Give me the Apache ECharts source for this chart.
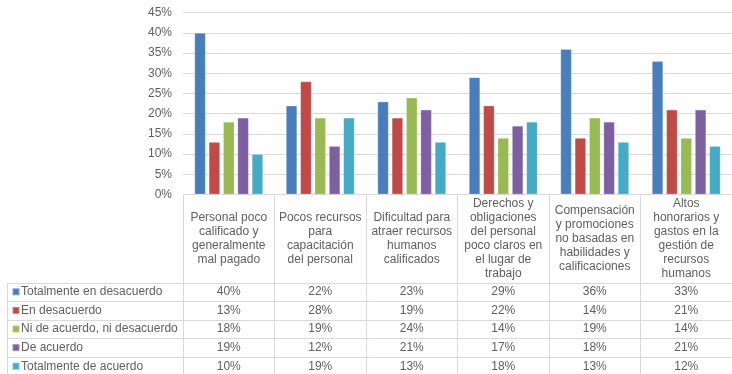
<!DOCTYPE html>
<html>
<head>
<meta charset="utf-8">
<script src="https://cdn.jsdelivr.net/npm/echarts@6/dist/echarts.min.js"></script>
<style>
  html, body { margin: 0; padding: 0; background: #ffffff; }
  #chart { width: 732px; height: 374px; }
</style>
</head>
<body>
<div id="chart"></div>
<script>
// Categories (with the line breaks used in the table header cells)
const categories = [
  'Personal poco\ncalificado y\ngeneralmente\nmal pagado',
  'Pocos recursos\npara\ncapacitación\ndel personal',
  'Dificultad para\natraer recursos\nhumanos\ncalificados',
  'Derechos y\nobligaciones\ndel personal\npoco claros en\nel lugar de\ntrabajo',
  'Compensación\ny promociones\nno basadas en\nhabilidades y\ncalificaciones',
  'Altos\nhonorarios y\ngastos en la\ngestión de\nrecursos\nhumanos'
];

// Series names and values (%)
const seriesNames = [
  'Totalmente en desacuerdo',
  'En desacuerdo',
  'Ni de acuerdo, ni desacuerdo',
  'De acuerdo',
  'Totalmente de acuerdo'
];
const totalDesacuerdo = [40, 22, 23, 29, 36, 33];
const enDesacuerdo    = [13, 28, 19, 22, 14, 21];
const niNi            = [18, 19, 24, 14, 19, 14];
const deAcuerdo       = [19, 12, 21, 17, 18, 21];
const totalAcuerdo    = [10, 19, 13, 18, 13, 12];
const seriesValues = [totalDesacuerdo, enDesacuerdo, niNi, deAcuerdo, totalAcuerdo];

// Value axis ticks
const yMin = 0, yMax = 45, yStep = 5;

const colors = ['#4a7ebb', '#be4b48', '#98b954', '#7d60a0', '#46aac5'];
const textColor = '#606060';
const borderColor = '#d9d9d9';
const font = 'Liberation Sans, Arial, sans-serif';

// Layout of the plot and of the data table below it
const gridLeft = 183, gridTop = 12.7, gridWidth = 557, axisY = 194.5;
const rowLines = [282.5, 301.1, 319.7, 338.3, 356.9, 375.5];
const tableLeft = 7.5;

const chart = echarts.init(document.getElementById('chart'), null, { renderer: 'canvas' });

// One hidden category axis per table row prints that row's values
const rowAxes = seriesValues.map((vals, k) => ({
  type: 'category',
  gridIndex: 0,
  position: 'bottom',
  data: categories,
  offset: (rowLines[k] + rowLines[k + 1]) / 2 - axisY,
  axisLine: { show: false },
  axisTick: { show: false },
  splitLine: { show: false },
  axisLabel: {
    interval: 0,
    margin: 0,
    verticalAlign: 'middle',
    color: textColor,
    fontFamily: font,
    fontSize: 12,
    formatter: (v, i) => vals[i] + '%'
  }
}));

// Table rules (horizontal lines and left border)
const tableGraphics = rowLines.slice(0, 5).map(y => ({
  type: 'line',
  shape: { x1: tableLeft, y1: Math.round(y) + 0.5, x2: 732, y2: Math.round(y) + 0.5 },
  style: { stroke: borderColor, lineWidth: 1 },
  silent: true
}));
tableGraphics.push({
  type: 'line',
  shape: { x1: tableLeft, y1: Math.round(rowLines[0]) + 0.5, x2: tableLeft, y2: 374 },
  style: { stroke: borderColor, lineWidth: 1 },
  silent: true
});

chart.setOption({
  animation: false,
  backgroundColor: '#ffffff',
  color: colors,
  textStyle: { fontFamily: font },
  grid: { left: gridLeft, top: gridTop, width: gridWidth, height: axisY - gridTop, containLabel: false },
  legend: {
    orient: 'vertical',
    left: 11.5,
    top: rowLines[0] + 2.3,
    padding: 0,
    icon: 'rect',
    itemWidth: 7,
    itemHeight: 7,
    itemGap: 4.6,
    selectedMode: false,
    textStyle: { color: textColor, fontSize: 12, lineHeight: 14, fontFamily: font, padding: [0, 0, 0, -3.5] },
    data: seriesNames
  },
  xAxis: [{
    type: 'category',
    data: categories,
    axisLine: { show: true, lineStyle: { color: borderColor, width: 1 } },
    axisTick: { show: true, length: 181, lineStyle: { color: borderColor, width: 1 } },
    axisLabel: {
      interval: 0,
      margin: 44.5,
      verticalAlign: 'middle',
      color: textColor,
      fontSize: 12,
      lineHeight: 14,
      fontFamily: font
    }
  }].concat(rowAxes),
  yAxis: {
    type: 'value',
    min: yMin,
    max: yMax,
    interval: yStep,
    axisLine: { show: false },
    axisTick: { show: false },
    splitLine: { lineStyle: { color: borderColor, width: 1 } },
    axisLabel: {
      margin: 11,
      color: textColor,
      fontSize: 12,
      fontFamily: font,
      formatter: v => v + '%'
    }
  },
  graphic: tableGraphics,
  series: seriesNames.map((name, k) => ({
    name: name,
    type: 'bar',
    xAxisIndex: 0,
    barWidth: 11.3,
    barGap: '27%',
    itemStyle: { color: colors[k], borderColor: 'rgba(255,255,255,0.3)', borderWidth: 0.8 },
    data: seriesValues[k]
  }))
});
</script>
</body>
</html>
